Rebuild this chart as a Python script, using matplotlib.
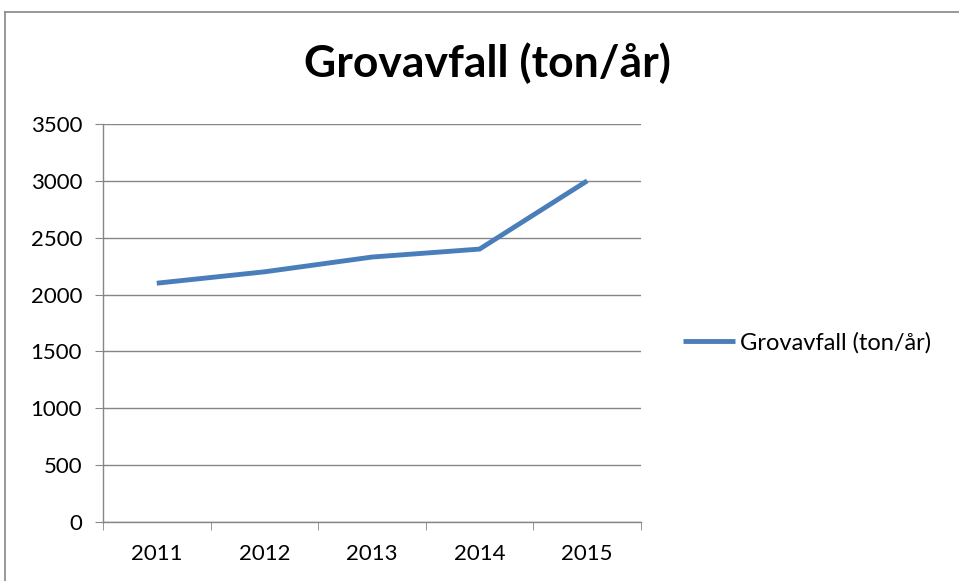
import matplotlib.pyplot as plt
from matplotlib.lines import Line2D

years = ["2011", "2012", "2013", "2014", "2015"]
tonnes = [2100, 2200, 2330, 2400, 3000]
yticks = [0, 500, 1000, 1500, 2000, 2500, 3000, 3500]

plt.rcParams['font.family'] = ['Lato', 'DejaVu Sans']

fig = plt.figure(figsize=(9.59, 5.81), dpi=100)
W, H = 959, 581
ax = fig.add_axes([103 / W, 1 - 522 / H, (641 - 103) / W, (522 - 124) / H])

x = list(range(len(years)))
ax.plot(x, tonnes, color="#4A7EBB", lw=3.5, solid_capstyle="butt",
        label="Grovavfall (ton/år)", zorder=3)

ax.set_xlim(-0.5, len(years) - 0.5)
ax.set_ylim(0, 3500)
ax.set_yticks(yticks)
ax.set_xticks(x)
ax.set_xticklabels(years)
ax.set_xticks([i - 0.5 for i in range(len(years) + 1)], minor=True)
ax.tick_params(axis="x", which="major", length=0, pad=16, labelsize=16)
ax.tick_params(axis="x", which="minor", length=6, color="#868686", direction="out")
ax.tick_params(axis="y", length=6, color="#868686", labelsize=16, pad=9)
ax.grid(axis="y", color="#868686", lw=1)
ax.set_axisbelow(True)
for s in ["top", "right"]:
    ax.spines[s].set_visible(False)
for s in ["left", "bottom"]:
    ax.spines[s].set_color("#868686")
    ax.spines[s].set_linewidth(1)

fig.text(487 / W, 1 - 63 / H, "Grovavfall (ton/år)", ha="center", va="center",
         fontsize=32, fontweight="bold")

leg = fig.legend(loc="center left", bbox_to_anchor=(662 / W, 1 - 343 / H),
                 frameon=False, fontsize=17, handlelength=2.2, handletextpad=0.2)

# outer chart border (only top and left visible in the crop)
fig.add_artist(Line2D([5 / W, 5 / W], [0, 1 - 12 / H], transform=fig.transFigure,
                      color="#868686", lw=1.2))
fig.add_artist(Line2D([5 / W, 1], [1 - 12 / H, 1 - 12 / H], transform=fig.transFigure,
                      color="#868686", lw=1.2))

fig.savefig("out.png", dpi=100)
